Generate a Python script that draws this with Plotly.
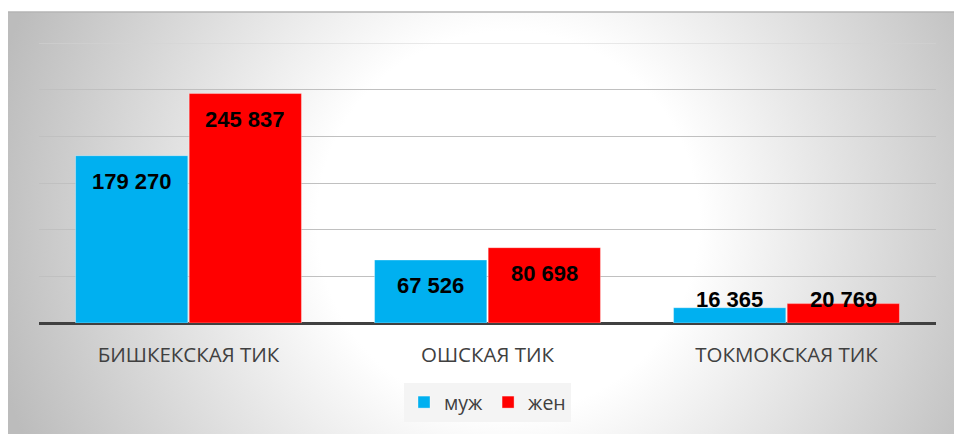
import base64
import plotly.graph_objects as go

categories = ["БИШКЕКСКАЯ ТИК", "ОШСКАЯ ТИК", "ТОКМОКСКАЯ ТИК"]
male = [179270, 67526, 16365]
female = [245837, 80698, 20769]
series_names = ["муж", "жен"]
colors = ["#00b0f0", "#ff0000"]

W, H = 954, 434
ML, MR, MT, MB = 39, 18, 43, 111
PW, PH = W - ML - MR, H - MT - MB
YMAX = 300000
BARGAP = 0.24

# background gradient as svg
svg = '''<svg xmlns="http://www.w3.org/2000/svg" width="946" height="422" viewBox="0 0 946 422">
<defs><radialGradient id="g" gradientUnits="userSpaceOnUse" cx="500" cy="210" r="530">
<stop offset="0" stop-color="#ffffff"/><stop offset="0.36" stop-color="#ffffff"/>
<stop offset="1" stop-color="#bcbcbc"/></radialGradient></defs>
<rect width="946" height="422" fill="url(#g)"/></svg>'''
src = "data:image/svg+xml;base64," + base64.b64encode(svg.encode()).decode()

fig = go.Figure()
for name, vals, col in zip(series_names, [male, female], colors):
    fig.add_trace(go.Bar(
        x=categories, y=vals, name=name,
        marker=dict(color=col, line=dict(color="rgba(255,255,255,0.35)", width=1)),
        hoverinfo="skip",
    ))

px_per_unit = PH / YMAX
half = (1 - BARGAP) / 4
annotations = []
for si, vals in enumerate([male, female]):
    off = -half if si == 0 else half
    for ci, v in enumerate(vals):
        label = f"{v:,}".replace(",", " ")
        if v * px_per_unit >= 49:
            y, ys = v, -25.5
        else:
            y, ys = 0, 23.3
        annotations.append(dict(
            x=ci + off, y=y, xref="x", yref="y", text=f"<b>{label}</b>",
            showarrow=False, yshift=ys, yanchor="middle", xanchor="center",
            font=dict(family="Liberation Sans", size=22, color="#000000"),
        ))

x0 = (8 - ML) / PW
x1 = (W - ML) / PW
ytop = (PH + MT - 12) / PH
sizey = 422 / PH

fig.update_layout(
    width=W, height=H,
    margin=dict(l=ML, r=MR, t=MT, b=MB, pad=0),
    paper_bgcolor="#ffffff",
    plot_bgcolor="rgba(0,0,0,0)",
    barmode="group", bargap=BARGAP, bargroupgap=0.012,
    showlegend=True,
    legend=dict(
        orientation="h", x=0.5, xanchor="center", y=-0.214, yanchor="top",
        bgcolor="#f4f4f4", font=dict(family="Open Sans", size=19.5, color="#404040"),
        itemwidth=30, tracegroupgap=0,
    ),
    xaxis=dict(
        showgrid=False, showline=False, zeroline=False,
        tickfont=dict(family="Open Sans", size=20.5, color="#404040"),
        ticks="", ticklabelstandoff=17,
    ),
    yaxis=dict(
        range=[0, YMAX], dtick=50000, showticklabels=False,
        showgrid=True, gridcolor="#c0c0c0", gridwidth=1.2,
        zeroline=True, zerolinecolor="#404040", zerolinewidth=3,
        showline=False, ticks="",
    ),
    annotations=annotations,
    images=[dict(
        source=src, xref="paper", yref="paper", x=x0, y=ytop,
        sizex=x1 - x0, sizey=sizey,
        xanchor="left", yanchor="top", sizing="stretch", layer="below",
    )],
    shapes=[
        dict(type="line", xref="paper", yref="paper", x0=x0, x1=x1, y0=ytop, y1=ytop,
             line=dict(color="#b4b4b4", width=1.5)),
        dict(type="line", xref="paper", yref="y", x0=0, x1=1, y0=YMAX, y1=YMAX,
             layer="below", line=dict(color="#d4d4d4", width=1.2)),
    ],
)

fig.write_html("out.html", config={"displayModeBar": False},
               post_script="document.body.style.margin='0';")
